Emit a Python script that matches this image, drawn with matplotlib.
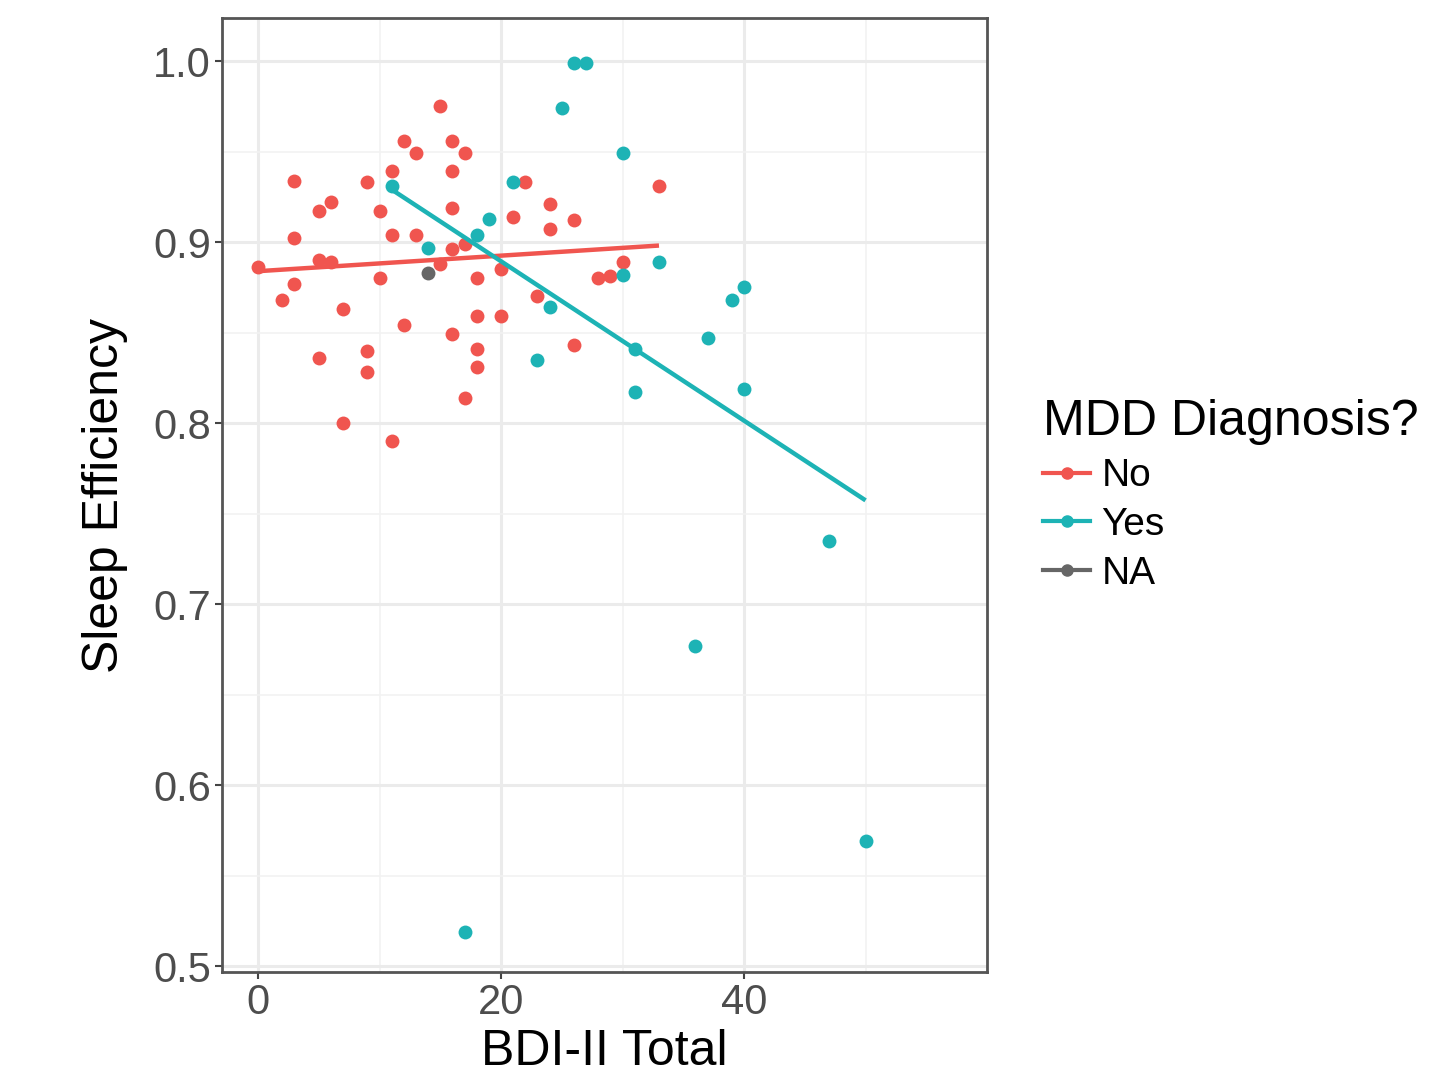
import numpy as np
import matplotlib
matplotlib.use('Agg')
import matplotlib.pyplot as plt
from matplotlib.lines import Line2D
from matplotlib.ticker import FixedLocator, MultipleLocator

plt.rcParams['font.family'] = ['Liberation Sans', 'DejaVu Sans']

# BDI-II total vs sleep efficiency, by MDD diagnosis
no_bdi = [0, 2, 3, 3, 3, 5, 6, 5, 6, 5, 7, 7, 9, 9, 9, 10, 10, 11, 11, 11,
          12, 12, 13, 13, 15, 16, 16, 16, 17, 16, 15, 16, 17, 17, 18, 18, 18, 18,
          20, 20, 21, 22, 23, 24, 24, 26, 26, 28, 29, 30, 33]
no_eff = [0.886, 0.868, 0.934, 0.902, 0.877, 0.917, 0.922, 0.890, 0.889, 0.836,
          0.863, 0.800, 0.933, 0.840, 0.828, 0.917, 0.880, 0.939, 0.904, 0.790,
          0.956, 0.854, 0.949, 0.904, 0.975, 0.956, 0.939, 0.919, 0.949, 0.896,
          0.888, 0.849, 0.814, 0.899, 0.880, 0.859, 0.841, 0.831, 0.885, 0.859,
          0.914, 0.933, 0.870, 0.921, 0.907, 0.912, 0.843, 0.880, 0.881, 0.889,
          0.931]

yes_bdi = [11, 14, 18, 19, 21, 24, 23, 25, 26, 27, 30, 30, 31, 31, 33, 36, 37,
           39, 40, 40, 47, 50, 17]
yes_eff = [0.931, 0.897, 0.904, 0.913, 0.933, 0.864, 0.835, 0.974, 0.999, 0.999,
           0.949, 0.882, 0.841, 0.817, 0.889, 0.677, 0.847, 0.868, 0.875, 0.819,
           0.735, 0.569, 0.519]

na_bdi = [14]
na_eff = [0.883]

x_major = [0, 20, 40]
x_minor = [10, 30, 50]

groups = [
    ('No', no_bdi, no_eff, '#F0554F', True),
    ('Yes', yes_bdi, yes_eff, '#1DB3B5', True),
    ('NA', na_bdi, na_eff, '#666666', False),
]

fig = plt.figure(figsize=(14.55, 10.91), dpi=100)
ax = fig.add_axes([0.1526, 0.109, 0.5258, 0.8745])

for name, x, y, color, fit in groups:
    ax.scatter(x, y, s=100, color=color, linewidths=0, zorder=3)
    if fit:
        # linear fit over each group's own x range
        x = np.asarray(x, float)
        y = np.asarray(y, float)
        slope, icpt = np.polyfit(x, y, 1)
        xs = np.array([x.min(), x.max()])
        ax.plot(xs, icpt + slope * xs, color=color, lw=3.2, zorder=4,
                solid_capstyle='butt')

ax.set_xlim(-2.96, 60.0)
ax.set_ylim(0.4967, 1.0238)
ax.xaxis.set_major_locator(FixedLocator(x_major))
ax.xaxis.set_minor_locator(FixedLocator(x_minor))
ax.yaxis.set_major_locator(MultipleLocator(0.1))
ax.yaxis.set_minor_locator(MultipleLocator(0.05))
ax.yaxis.set_major_formatter(plt.FuncFormatter(lambda v, p: f'{v:.1f}'))

ax.grid(which='major', color='#EBEBEB', lw=2.2, zorder=0)
ax.grid(which='minor', color='#F2F2F2', lw=1.2, zorder=0)
ax.set_axisbelow(True)
for sp in ax.spines.values():
    sp.set_color('#555555')
    sp.set_linewidth(2)

ax.tick_params(which='major', length=5, width=1.5, color='#444444',
               labelsize=30, labelcolor='#4D4D4D', pad=3)
ax.tick_params(which='minor', length=0)

ax.set_xlabel('BDI-II Total', fontsize=36, labelpad=4)
ax.set_ylabel('Sleep Efficiency', fontsize=36, labelpad=18)

handles = [Line2D([0], [0], color=c, lw=3, marker='o', markersize=8)
           for _, _, _, c, _ in groups]
leg = ax.legend(handles, [g[0] for g in groups], title='MDD Diagnosis?',
                loc='upper left', bbox_to_anchor=(0.717, 0.634),
                bbox_transform=fig.transFigure, frameon=False,
                fontsize=28, title_fontsize=36, handlelength=1.2,
                handletextpad=0.3, labelspacing=0.33, borderpad=0,
                borderaxespad=0)
leg._legend_box.align = 'left'

fig.savefig('out.png', dpi=100)
